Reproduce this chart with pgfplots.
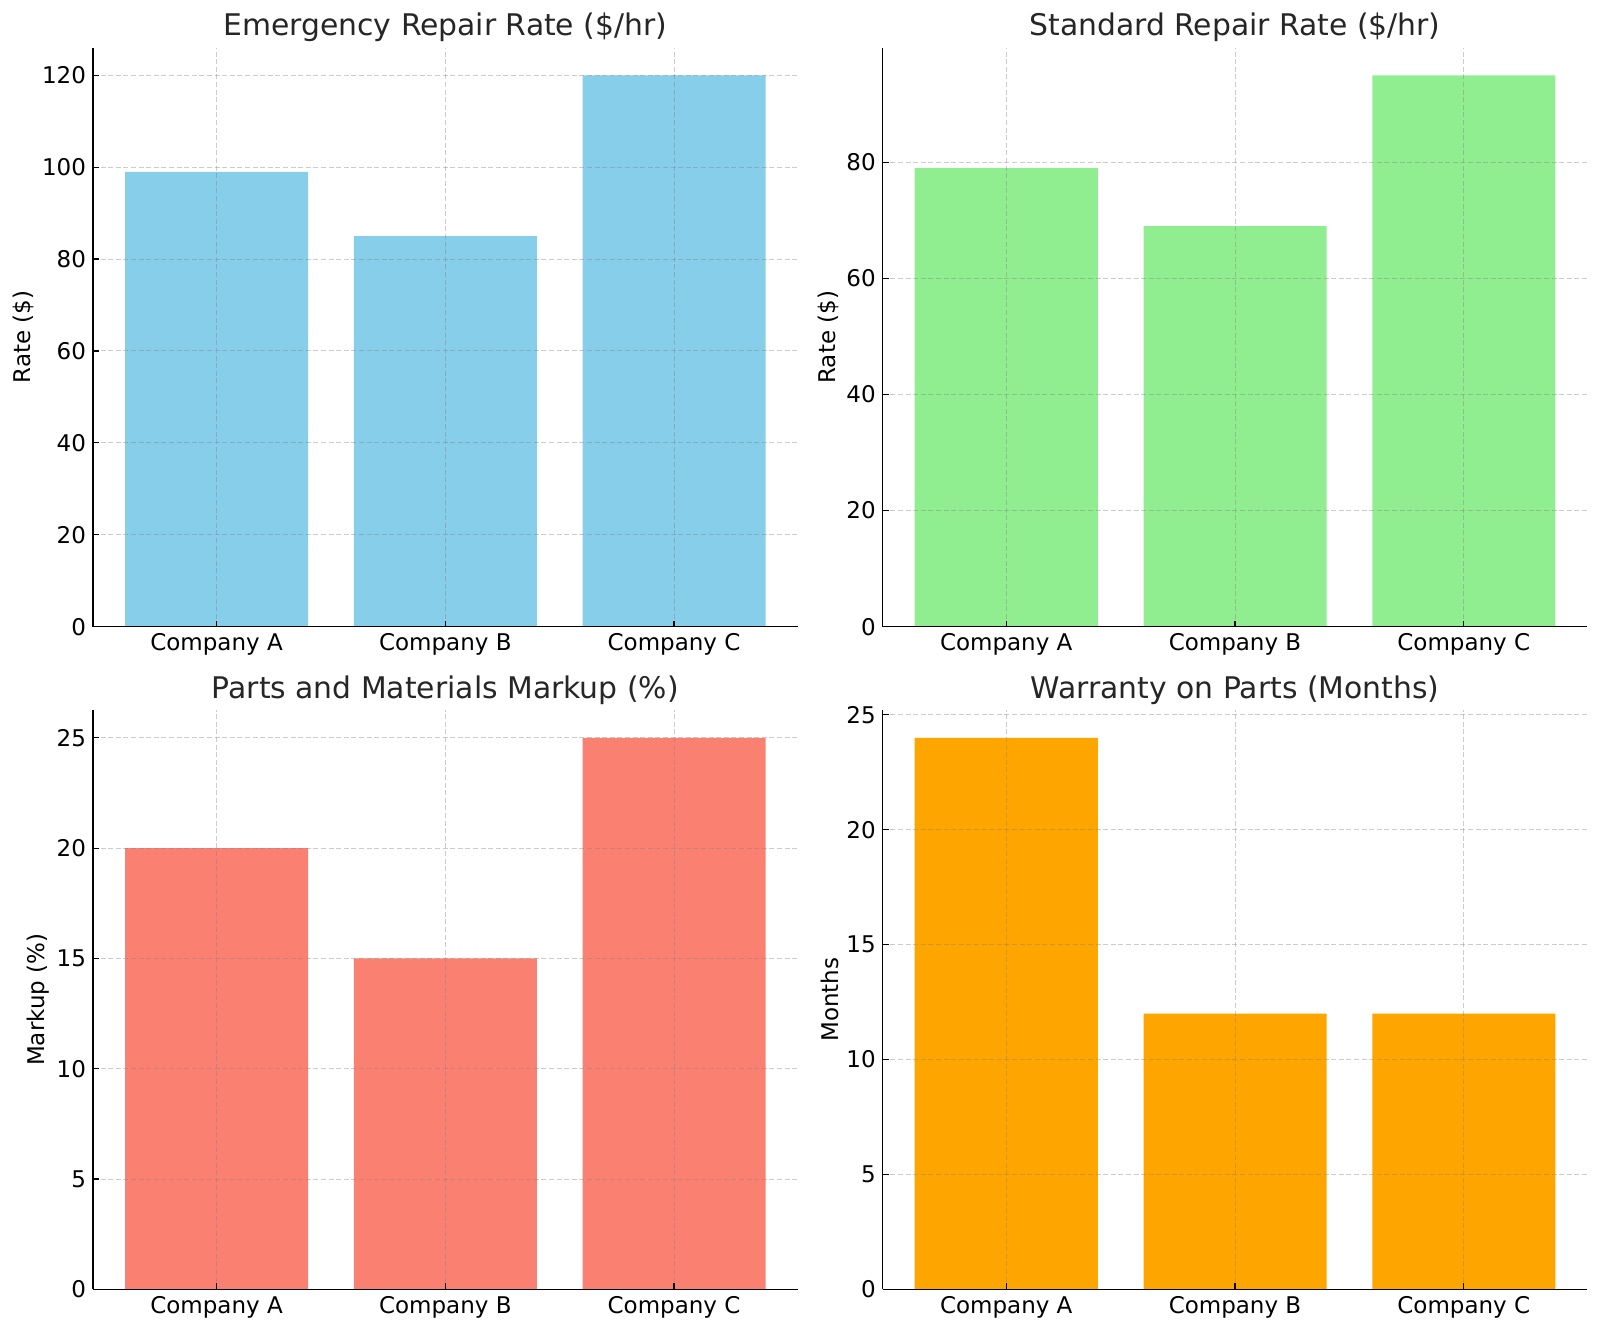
\documentclass[border=0pt]{standalone}
\usepackage{pgfplots}
\pgfplotsset{compat=1.18}
\usepackage{fontspec}
\setmainfont{DejaVu Sans}
\definecolor{skyb}{HTML}{87CEEB}
\definecolor{lgreen}{HTML}{90EE90}
\definecolor{salmonc}{HTML}{FA8072}
\definecolor{orangec}{HTML}{FFA500}
\definecolor{titlec}{HTML}{262626}
\pgfplotsset{
  every axis title/.style={at={(0.5,1)}, anchor=base, yshift=5.85pt, font=\fontsize{14.9}{17.5}\selectfont, text=titlec},
  panel/.style={
    scale only axis, width=352.3pt, height=289.5pt, anchor=south west,
    axis x line*=bottom, axis y line*=left,
    axis line style={line width=0.7pt, black},
    xmin=-0.54, xmax=2.54, ymin=0,
    xtick={0,1,2}, xticklabels={Company A, Company B, Company C},
    ybar, bar width=0.8, bar shift=0pt,
    axis on top,
    grid=major,
    major grid style={gray, opacity=0.4, dash pattern=on 2.5pt off 1.3pt, line width=0.5pt},
    major tick length=3pt,
    tick style={black, line width=0.6pt},
    tick align=inside,
    ticklabel style={font=\fontsize{11.5}{13.8}\selectfont},
    /pgf/number format/assume math mode=true,
    label style={font=\fontsize{11.5}{13.8}\selectfont},
    ylabel style={inner sep=0.3pt},
  }
}
\begin{document}
\begin{tikzpicture}
\path[use as bounding box] (0,0) rectangle (800pt,666pt);
\begin{axis}[panel, at={(46.5pt,352.65pt)}, ymax=126, ytick={0,20,40,60,80,100,120},
  title={Emergency Repair Rate (\$/hr)}, ylabel={Rate (\$)}]
\addplot[fill=skyb, draw=none] coordinates {(0,99) (1,85) (2,120)};
\end{axis}
\begin{axis}[panel, at={(441.35pt,352.65pt)}, ymax=99.75, ytick={0,20,40,60,80},
  title={Standard Repair Rate (\$/hr)}, ylabel={Rate (\$)}]
\addplot[fill=lgreen, draw=none] coordinates {(0,79) (1,69) (2,95)};
\end{axis}
\begin{axis}[panel, at={(46.5pt,21.35pt)}, ymax=26.25, ytick={0,5,10,15,20,25},
  title={Parts and Materials Markup (\%)}, ylabel={Markup (\%)}]
\addplot[fill=salmonc, draw=none] coordinates {(0,20) (1,15) (2,25)};
\end{axis}
\begin{axis}[panel, at={(441.35pt,21.35pt)}, ymax=25.2, ytick={0,5,10,15,20,25},
  title={Warranty on Parts (Months)}, ylabel={Months}]
\addplot[fill=orangec, draw=none] coordinates {(0,24) (1,12) (2,12)};
\end{axis}
\end{tikzpicture}
\end{document}
